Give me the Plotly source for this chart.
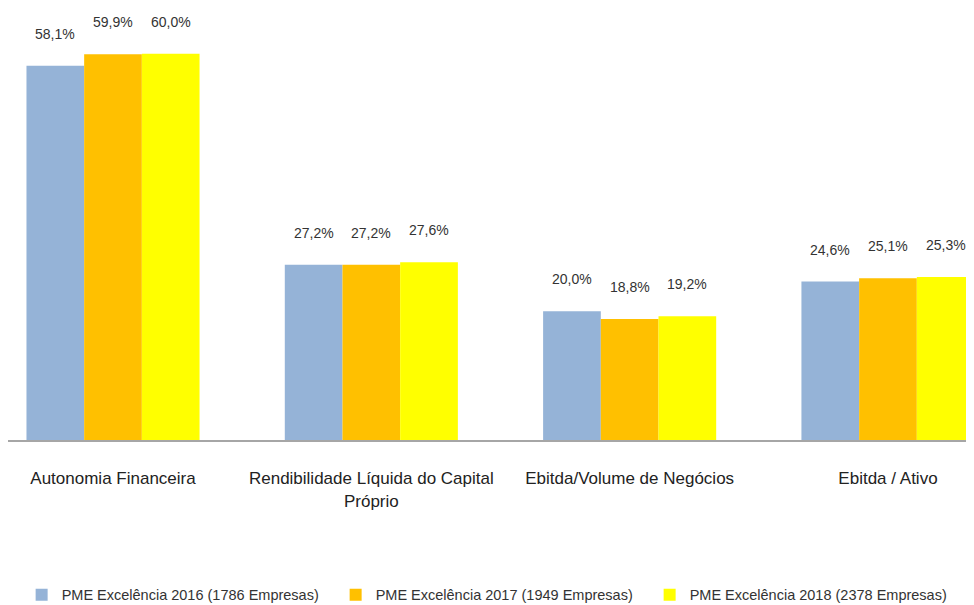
import plotly.graph_objects as go

# categories and series
categories = ["Autonomia Financeira",
              "Rendibilidade Líquida do Capital<br>Próprio",
              "Ebitda/Volume de Negócios",
              "Ebitda / Ativo"]
series_names = ["PME Excelência 2016 (1786 Empresas)",
                "PME Excelência 2017 (1949 Empresas)",
                "PME Excelência 2018 (2378 Empresas)"]
values_2016 = [58.1, 27.2, 20.0, 24.6]
values_2017 = [59.9, 27.2, 18.8, 25.1]
values_2018 = [60.0, 27.6, 19.2, 25.3]
colors = ["#95B3D7", "#FFC000", "#FFFF00"]

FONT = "Liberation Sans, Arial, sans-serif"

fig = go.Figure()
all_values = [values_2016, values_2017, values_2018]
for name, vals, col in zip(series_names, all_values, colors):
    fig.add_trace(go.Bar(
        x=categories, y=vals, name=name,
        marker=dict(color=col, line=dict(width=0)),
        offsetgroup=name,
    ))

# value labels above bars (placed via the axes, shifted up a bit)
bar_w = (1 - 0.33) / 3
for i, vals in enumerate(all_values):
    for j, v in enumerate(vals):
        fig.add_annotation(
            x=j + (i - 1) * bar_w, y=v, xref="x", yref="y",
            text=f"{v:.1f}".replace(".", ",") + "%",
            showarrow=False, yshift=32,
            font=dict(family=FONT, size=14, color="#333333"),
        )

fig.update_layout(
    width=974, height=605,
    margin=dict(l=0, r=0, t=7, b=173),
    paper_bgcolor="white", plot_bgcolor="white",
    barmode="group", bargap=0.33, bargroupgap=0,
    showlegend=True,
    legend=dict(orientation="h", x=0.014, y=0.03, yref="container",
                yanchor="middle", xanchor="left",
                entrywidth=269, itemwidth=30,
                font=dict(family=FONT, size=14.5, color="#333333")),
    font=dict(family=FONT, color="#222222"),
)
fig.update_xaxes(
    type="category", range=[-0.4065, 3.364],
    showline=True, linecolor="#A6A6A6", linewidth=2,
    ticks="", ticklabelstandoff=22,
    tickfont=dict(family=FONT, size=17, color="#222222"),
)
fig.update_yaxes(range=[0, 66], showgrid=False, showticklabels=False,
                 zeroline=False, showline=False)

fig.write_html("out.html")
